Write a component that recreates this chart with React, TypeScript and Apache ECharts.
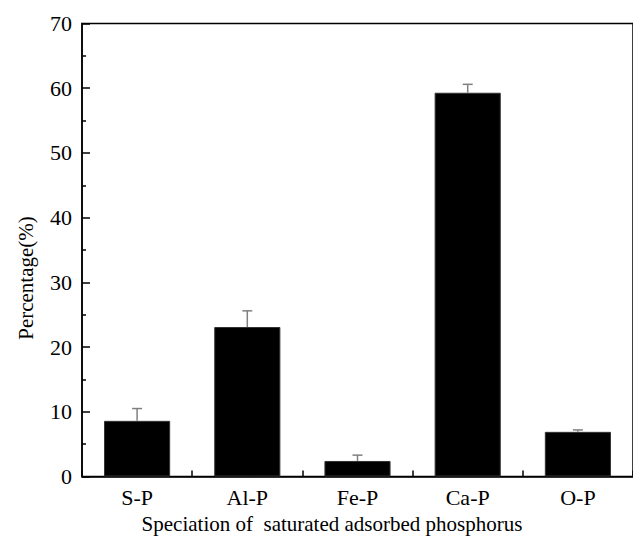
import React, { useEffect, useRef } from "react";
import * as echarts from "echarts";

const categories = ["S-P", "Al-P", "Fe-P", "Ca-P", "O-P"];
const percentages = [8.6, 23.1, 2.4, 59.3, 6.9];
const errors = [1.9, 2.5, 0.9, 1.3, 0.3];
const yTicks = { min: 0, max: 70, interval: 10 };
const xTitle = "Speciation of  saturated adsorbed phosphorus";
const yTitle = "Percentage(%)";

const FONT = "Times New Roman, Tinos, Liberation Serif, DejaVu Serif";

export default function App() {
  const ref = useRef<HTMLDivElement>(null);
  useEffect(() => {
    if (!ref.current) return;
    const chart = echarts.init(ref.current, null, { renderer: "svg" });
    const errData = percentages.map((v, i) => [i, v, errors[i]]);
    chart.setOption({
      animation: false,
      backgroundColor: "#ffffff",
      textStyle: { fontFamily: FONT },
      grid: {
        left: 82,
        top: 23.5,
        width: 561,
        height: 453,
        show: true,
        borderColor: "#000",
        borderWidth: 1.5,
        backgroundColor: "transparent",
      },
      xAxis: {
        type: "category",
        data: categories,
        axisLine: { lineStyle: { color: "#000", width: 1.5 } },
        axisTick: { show: true, inside: true, length: 6, lineStyle: { color: "#000", width: 1.5 } },
        axisLabel: { color: "#000", fontFamily: FONT, fontSize: 22, margin: 10 },
        splitLine: { show: false },
      },
      yAxis: {
        type: "value",
        min: yTicks.min,
        max: yTicks.max,
        interval: yTicks.interval,
        axisLine: { show: true, lineStyle: { color: "#000", width: 1.5 } },
        axisTick: { show: true, inside: true, length: 8, lineStyle: { color: "#000", width: 1.5 } },
        minorTick: { show: true, splitNumber: 2, length: 4, lineStyle: { color: "#000", width: 1.5 } },
        axisLabel: { color: "#000", fontFamily: FONT, fontSize: 22, margin: 10 },
        splitLine: { show: false },
      },
      graphic: [
        {
          type: "text",
          x: 332,
          y: 524,
          style: {
            text: xTitle,
            fontFamily: FONT,
            fontSize: 21,
            fill: "#000",
            textAlign: "center",
            textVerticalAlign: "middle",
          },
        },
        {
          type: "text",
          x: 26,
          y: 278,
          rotation: Math.PI / 2,
          style: {
            text: yTitle,
            fontFamily: FONT,
            fontSize: 21,
            fill: "#000",
            textAlign: "center",
            textVerticalAlign: "middle",
          },
        },
      ],
      series: [
        {
          type: "bar",
          data: percentages,
          barWidth: "60%",
          itemStyle: { color: "#000", borderColor: "#333", borderWidth: 1 },
          z: 2,
        },
        {
          type: "custom",
          data: errData,
          z: 3,
          renderItem: (params: any, api: any) => {
            const i = api.value(0);
            const v = api.value(1);
            const e = api.value(2);
            const p0 = api.coord([i, v]);
            const p1 = api.coord([i, v + e]);
            const half = 5;
            const style = { stroke: "#808080", lineWidth: 1.5 };
            return {
              type: "group",
              children: [
                { type: "line", shape: { x1: p0[0], y1: p0[1], x2: p1[0], y2: p1[1] }, style },
                { type: "line", shape: { x1: p1[0] - half, y1: p1[1], x2: p1[0] + half, y2: p1[1] }, style },
              ],
            };
          },
        },
      ],
    });
    return () => chart.dispose();
  }, []);
  return (
    <div
      ref={ref}
      style={{ position: "fixed", left: 0, top: 0, width: 633, height: 543 }}
    />
  );
}
